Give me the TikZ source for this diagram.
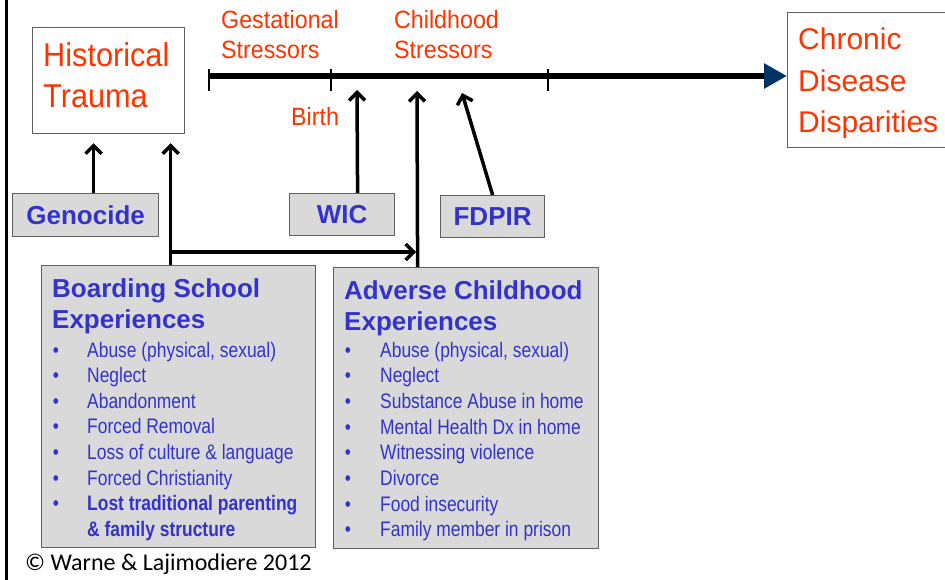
\documentclass[tikz,border=0pt]{standalone}
\usepackage{fontspec}
\setmainfont{Liberation Sans}
\newfontfamily\narrowfont[FakeStretch=0.83]{Liberation Sans}
\newfontfamily\redfont[FakeStretch=0.93]{Liberation Sans}
\newfontfamily\copyfont{Carlito}
\usetikzlibrary{arrows.meta}

\definecolor{stressred}{HTML}{FF3300}
\definecolor{boxblue}{HTML}{3333CC}
\definecolor{boxgray}{HTML}{D9D9D9}
\definecolor{edgegray}{HTML}{5F5F5F}
\definecolor{tipnavy}{HTML}{003366}

\tikzset{
  whitebox/.style={draw=edgegray, line width=1.2pt, fill=white, anchor=north west, inner sep=0pt},
  greybox/.style={draw=edgegray, line width=1.2pt, fill=boxgray, anchor=north west, inner sep=0pt},
  labelbox/.style={greybox, text=boxblue, font=\bfseries\fontsize{26}{31}\selectfont, text depth=0pt},
  redtext/.style={text=stressred, anchor=north west, inner sep=0pt, align=left},
  title/.style={text=boxblue, anchor=north west, inner sep=0pt, align=left, font=\bfseries\fontsize{26}{31}\selectfont},
  item/.style={text=boxblue, anchor=base west, inner sep=0pt, font=\narrowfont\fontsize{21}{25}\selectfont},
  dot/.style={item, anchor=base},
  arr/.style={line width=3.5pt, -{Straight Barb[length=8pt, width=16pt]}},
  tick/.style={line width=1.4pt}
}

\begin{document}
\begin{tikzpicture}[x=1pt, y=-1pt]
    \useasboundingbox (0,0) rectangle (945,580);

    % Nodes
    \node[whitebox, minimum width=152, minimum height=106] at (32, 27)  (trauma)  {};
    \node[redtext, font=\redfont\fontsize{33}{41}\selectfont] at (43, 42)  (traumaText) {Historical\\Trauma};

    \node[whitebox, minimum width=170, minimum height=135] at (787, 12)  (chronic) {};
    \node[redtext, font=\fontsize{30}{41.5}\selectfont] at (798, 28)  (chronicText) {Chronic\\Disease\\Disparities};

    \node[redtext, font=\redfont\fontsize{25}{30}\selectfont] at (221, 10)  (gest)  {Gestational\\Stressors};
    \node[redtext, font=\redfont\fontsize{25}{30}\selectfont] at (394, 10)  (child) {Childhood\\Stressors};
    \node[redtext, font=\redfont\fontsize{25}{30}\selectfont] at (291, 107) (birth) {Birth};

    \node[labelbox, minimum width=146, minimum height=43] at (12, 193)  (genocide) {Genocide};
    \node[labelbox, minimum width=105, minimum height=42] at (289, 193) (wic)      {WIC};
    \node[labelbox, minimum width=104, minimum height=42] at (440, 195) (fdpir)    {FDPIR};

    \node[greybox, minimum width=274, minimum height=282] at (41, 265)  (boarding) {};
    \node[title] at (52, 278)  (boardingTitle) {Boarding School\\Experiences};
    \foreach \txt [count=\i] in {{Abuse (physical, sexual)}, Neglect, Abandonment, Forced Removal,
        Loss of culture \& language, Forced Christianity} {
      \node[dot]  at (56, {357+25.6*(\i-1)}) (bsDot\i)  {\textbullet};
      \node[item] at (87, {357+25.6*(\i-1)}) (bsItem\i) {\txt};
    }
    \node[dot]  at (56, 510.6) (bsDot7)  {\textbullet};
    \node[item, font=\narrowfont\bfseries\fontsize{21}{25}\selectfont] at (87, 510.6) (bsItem7) {Lost traditional parenting};
    \node[item, font=\narrowfont\bfseries\fontsize{21}{25}\selectfont] at (87, 536.2) (bsItem8) {\& family structure};

    \node[greybox, minimum width=265, minimum height=281] at (333, 267) (ace) {};
    \node[title] at (344, 280)  (aceTitle) {Adverse Childhood\\Experiences};
    \foreach \txt [count=\i] in {{Abuse (physical, sexual)}, Neglect, Substance Abuse in home,
        Mental Health Dx in home, Witnessing violence, Divorce, Food insecurity, Family member in prison} {
      \node[dot]  at (348, {357+25.7*(\i-1)}) (aceDot\i)  {\textbullet};
      \node[item] at (380, {357+25.7*(\i-1)}) (aceItem\i) {\txt};
    }

    \node[anchor=base west, inner sep=0pt, font=\copyfont\fontsize{24}{28}\selectfont] at (25, 570) (credit) {© Warne \& Lajimodiere 2012};

    % timeline
    \coordinate (tlStart) at (209, 76);
    \draw[line width=6pt, -{Triangle[length=23pt, width=24pt, color=tipnavy]}] (tlStart) -- (chronic.west |- tlStart);
    \foreach \x in {209, 331, 548}
      \draw[tick] (\x, 69) -- (\x, 91);

    % arrows
    \coordinate (wicTip)   at (357, 90);
    \coordinate (aceTip)   at (417, 91);
    \coordinate (fdpirTip) at (462, 93);
    \coordinate (split)    at (170, 252);

    \draw[arr, shorten >=9pt] ([xshift=8]genocide.north) -- ([xshift=8]genocide.north |- trauma.south);
    \draw[arr, shorten >=9pt] ([xshift=-8]boarding.north) -- ([xshift=-8]boarding.north |- trauma.south);
    \draw[arr] (split) -- ([xshift=-50]ace.north |- split);
    \draw[arr] ([xshift=-48.5]ace.north) -- (aceTip);
    \draw[arr] ([xshift=15.5]wic.north) -- (wicTip);
    \draw[arr] (fdpir.north) -- (fdpirTip);

    \draw[line width=3pt] (6, 0) -- (6, 580);

  \end{tikzpicture}
\end{document}
